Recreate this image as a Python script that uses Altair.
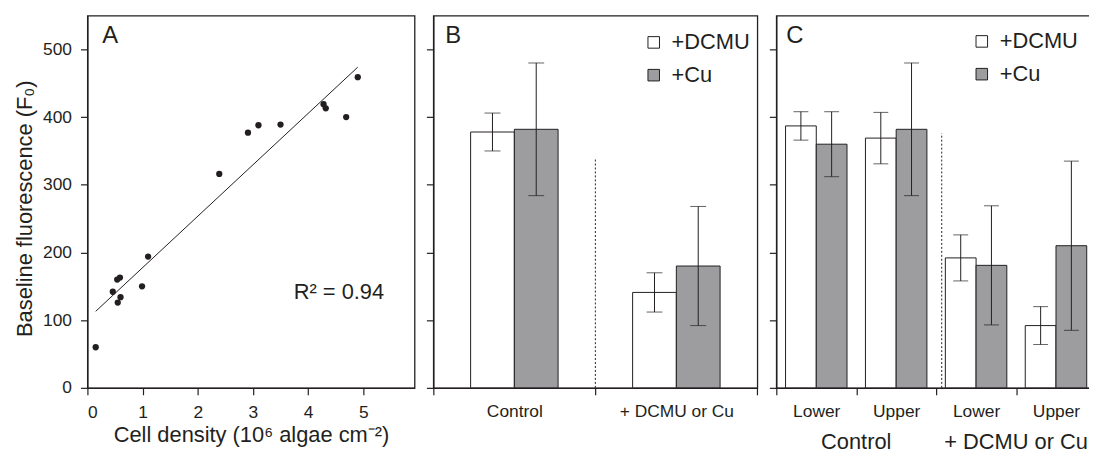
import altair as alt
import pandas as pd

FONT = "Liberation Sans"
INK = "#231f20"
GRAY = "#9d9d9f"

# ---------------- Panel A data ----------------
cell_density = [0.15, 0.46, 0.54, 0.59, 0.55, 0.60, 0.99, 1.10, 2.39, 2.91, 3.10, 3.50, 4.28, 4.32, 4.69, 4.90]
baseline_f0 = [60, 142, 160, 163, 126, 134, 150, 194, 316, 377, 388, 389, 419, 413, 400, 459]
r2_label = ["R² = 0.94"]

# ---------------- Panel B data ----------------
groups_b = ["Control", "+ DCMU or Cu"]
treatments = ["+DCMU", "+Cu"]
b_mean_dcmu = [378, 141]
b_err_dcmu = [28, 29]
b_mean_cu = [382, 180]
b_err_cu = [98, 88]
b_divider_top = [340]

# ---------------- Panel C data ----------------
groups_c = ["Control", "Control", "+ DCMU or Cu", "+ DCMU or Cu"]
positions_c = ["Lower", "Upper", "Lower", "Upper"]
c_mean_dcmu = [387, 369, 192, 92]
c_err_dcmu = [21, 38, 34, 28]
c_mean_cu = [360, 382, 181, 210]
c_err_cu = [48, 98, 88, 125]
c_divider_top = [376]
c_group_labels = ["Control", "+ DCMU or Cu"]

y_ticks = [0, 100, 200, 300, 400, 500]
x_ticks_a = [0, 1, 2, 3, 4, 5]

H = 375
WA, WB, WC = 329.6, 326.4, 322


def long_table(keys, m1, e1, m2, e2):
    rows = []
    for k, a, ea, b, eb in zip(keys, m1, e1, m2, e2):
        rows.append({"key": k, "treatment": treatments[0], "mean": a, "lo": a - ea, "hi": a + ea})
        rows.append({"key": k, "treatment": treatments[1], "mean": b, "lo": b - eb, "hi": b + eb})
    return pd.DataFrame(rows)


yscale = alt.Scale(domain=[0, 550], nice=False)
color_scale = alt.Scale(domain=treatments, range=["white", GRAY])


def letter(txt, dx):
    return alt.Chart(pd.DataFrame({"t": [txt]})).mark_text(
        font=FONT, fontSize=24, align="left", baseline="top", color=INK
    ).encode(x=alt.value(dx), y=alt.value(9), text="t:N")


# ---------------- Panel A ----------------
dfA = pd.DataFrame({"density": cell_density, "f0": baseline_f0})
xA = alt.X("density:Q", scale=alt.Scale(domain=[0, 5.93], nice=False),
           axis=alt.Axis(values=x_ticks_a, format="d", title="Cell density (10⁶ algae cm⁻²)",
                         tickSize=7, labelPadding=9, titlePadding=4,
                         labelFontSize=17.5, titleFontSize=22))
yA = alt.Y("f0:Q", scale=yscale,
           axis=alt.Axis(values=y_ticks, format="d", title="Baseline fluorescence (F₀)",
                         tickSize=7, labelPadding=9, titlePadding=6, titleY=194,
                         labelFontSize=17.5, titleFontSize=22))
pts = alt.Chart(dfA).mark_circle(size=40, color=INK, opacity=1).encode(x=xA, y=yA)
fit = alt.Chart(dfA).transform_regression("density", "f0").mark_line(
    color=INK, strokeWidth=1).encode(x="density:Q", y="f0:Q")
r2 = alt.Chart(pd.DataFrame({"t": r2_label})).mark_text(
    font=FONT, fontSize=22, align="left", baseline="alphabetic", color=INK
).encode(x=alt.datum(3.74), y=alt.datum(132), text="t:N")
panelA = alt.layer(pts, fit, r2, letter("A", 15)).properties(width=WA, height=H)

# ---------------- Panel B ----------------
dfB = long_table(groups_b, b_mean_dcmu, b_err_dcmu, b_mean_cu, b_err_cu)
xB = alt.X("key:N", scale=alt.Scale(domain=groups_b, paddingInner=0, paddingOuter=0),
           axis=alt.Axis(title=None, tickBand="extent", tickSize=7, labelPadding=8,
                         labelFontSize=17.5, labelAngle=0))
offB = alt.XOffset("treatment:N", scale=alt.Scale(domain=treatments, paddingInner=0, paddingOuter=0.852))
yB = alt.Y("mean:Q", scale=yscale,
           axis=alt.Axis(values=y_ticks, labels=False, title=None, tickSize=7))
legend_common = dict(title=None, orient="none", symbolType="square", symbolSize=135,
                     symbolStrokeColor=INK, symbolStrokeWidth=1, labelFontSize=22,
                     labelFont=FONT, labelColor=INK, labelOffset=7, rowPadding=11, padding=0)
barsB = alt.Chart(dfB).mark_bar(stroke=INK, strokeWidth=1).encode(
    x=xB, xOffset=offB, y=yB,
    color=alt.Color("treatment:N", scale=color_scale,
                    legend=alt.Legend(legendX=211, legendY=16, **legend_common)))
ruleB = alt.Chart(dfB).mark_rule(color=INK, strokeWidth=1).encode(
    x=xB, xOffset=offB, y="lo:Q", y2="hi:Q")
capLoB = alt.Chart(dfB).mark_tick(color=INK, thickness=1, size=16).encode(x=xB, xOffset=offB, y="lo:Q")
capHiB = alt.Chart(dfB).mark_tick(color=INK, thickness=1, size=16).encode(x=xB, xOffset=offB, y="hi:Q")
divB = alt.Chart(pd.DataFrame({"key": [groups_b[1]], "top": b_divider_top, "bottom": [0]})).mark_rule(
    color=INK, strokeWidth=1, strokeDash=[2, 2]).encode(
    x=alt.X("key:N", bandPosition=0), y="bottom:Q", y2="top:Q")
panelB = alt.layer(barsB, ruleB, capLoB, capHiB, divB, letter("B", 12)).properties(width=WB, height=H)

# ---------------- Panel C ----------------
keys_c = [g + "|" + p for g, p in zip(groups_c, positions_c)]
dfC = long_table(keys_c, c_mean_dcmu, c_err_dcmu, c_mean_cu, c_err_cu)
xC = alt.X("key:N", scale=alt.Scale(domain=keys_c, paddingInner=0, paddingOuter=0),
           axis=alt.Axis(title=None, tickBand="extent", tickSize=7, labelPadding=8,
                         labelFontSize=17.5, labelAngle=0,
                         labelExpr="split(datum.label, '|')[1]"))
offC = alt.XOffset("treatment:N", scale=alt.Scale(domain=treatments, paddingInner=0, paddingOuter=0.3))
barsC = alt.Chart(dfC).mark_bar(stroke=INK, strokeWidth=1).encode(
    x=xC, xOffset=offC, y=yB,
    color=alt.Color("treatment:N", scale=color_scale,
                    legend=alt.Legend(legendX=196, legendY=15, **legend_common)))
ruleC = alt.Chart(dfC).mark_rule(color=INK, strokeWidth=1).encode(
    x=xC, xOffset=offC, y="lo:Q", y2="hi:Q")
capLoC = alt.Chart(dfC).mark_tick(color=INK, thickness=1, size=15).encode(x=xC, xOffset=offC, y="lo:Q")
capHiC = alt.Chart(dfC).mark_tick(color=INK, thickness=1, size=15).encode(x=xC, xOffset=offC, y="hi:Q")
divC = alt.Chart(pd.DataFrame({"key": [keys_c[2]], "top": c_divider_top, "bottom": [0]})).mark_rule(
    color=INK, strokeWidth=1, strokeDash=[2, 2]).encode(
    x=alt.X("key:N", bandPosition=0.07), y="bottom:Q", y2="top:Q")
grpC = alt.Chart(pd.DataFrame({"key": [keys_c[1], keys_c[3]], "t": c_group_labels})).mark_text(
    font=FONT, fontSize=22, align="center", baseline="alphabetic", color=INK).encode(
    x=alt.X("key:N", bandPosition=0), y=alt.value(H + 61.5), text="t:N")
panelC = alt.layer(barsC, ruleC, capLoC, capHiC, divC, grpC, letter("C", 10)).properties(width=WC, height=H)

chart = alt.hconcat(panelA, panelB, panelC, spacing=8.5).resolve_scale(
    x="independent", xOffset="independent", color="independent"
).resolve_legend(color="independent").properties(
    padding={"left": 5, "top": 5, "right": -9, "bottom": 0}
).configure_view(stroke=INK, strokeWidth=1.3).configure_axis(
    grid=False, domainColor=INK, tickColor=INK, labelColor=INK, titleColor=INK,
    labelFont=FONT, titleFont=FONT, domainWidth=1.3, tickWidth=1.2,
    titleFontWeight="normal")

chart.save("out.html", embed_options={"renderer": "svg", "actions": False})
